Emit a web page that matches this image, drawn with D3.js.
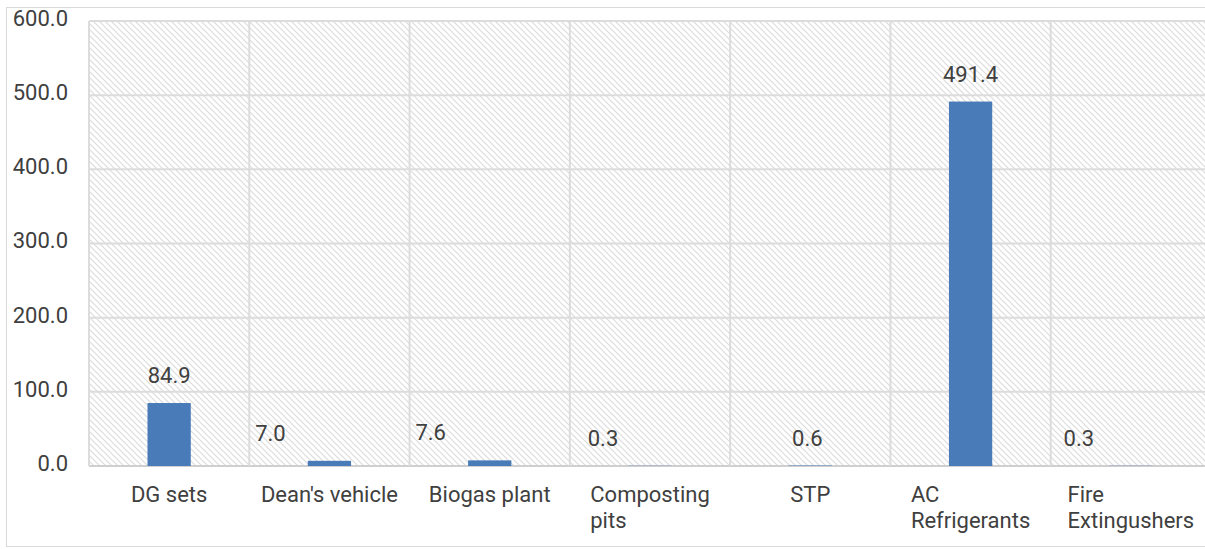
<!DOCTYPE html>
<html>
<head>
<meta charset="utf-8">
<script src="https://cdn.jsdelivr.net/npm/d3@7"></script>
<style>
  html, body { margin: 0; padding: 0; background: #fff; }
  svg { display: block; }
  text { font-family: Roboto, "Open Sans", sans-serif; fill: #404040; }
</style>
</head>
<body>
<svg id="chart" width="1205" height="549"></svg>
<script>
// Emission sources and their values
const categories = ["DG sets", "Dean's vehicle", "Biogas plant", "Composting pits", "STP", "AC Refrigerants", "Fire Extingushers"];
const categoryLines = [["DG sets"], ["Dean's vehicle"], ["Biogas plant"], ["Composting", "pits"], ["STP"], ["AC", "Refrigerants"], ["Fire", "Extingushers"]];
const values = [84.9, 7.0, 7.6, 0.3, 0.6, 491.4, 0.3];
const yTicks = [0, 100, 200, 300, 400, 500, 600];
// horizontal nudge of each value label, in px
const labelShift = [0, -59, -59, -47, -3, 0, -52];

const svg = d3.select("#chart");
const W = 1205, H = 549;
const plot = { left: 89, top: 21, right: 1211, bottom: 466 };
const FS = 22;

const x = d3.scaleBand().domain(categories).range([plot.left, plot.right]);
const y = d3.scaleLinear().domain([0, 600]).range([plot.bottom, plot.top]);
const barW = x.bandwidth() * 0.27;

// diagonal hatch fill for the plot area
const defs = svg.append("defs");
const pat = defs.append("pattern")
  .attr("id", "hatch").attr("patternUnits", "userSpaceOnUse")
  .attr("width", 6).attr("height", 6);
pat.append("rect").attr("width", 6).attr("height", 6).attr("fill", "#fff");
pat.append("path")
  .attr("d", "M-1,-1 L7,7 M-4,2 L1,7 M2,-4 L7,1")
  .attr("stroke", "#dcdcdc").attr("stroke-width", 1.2);

// outer chart frame
svg.append("rect")
  .attr("x", 6.5).attr("y", 7.5).attr("width", W + 10).attr("height", 539)
  .attr("fill", "#fff").attr("stroke", "#d9d9d9").attr("stroke-width", 1);

// plot background
svg.append("rect")
  .attr("x", plot.left).attr("y", plot.top)
  .attr("width", plot.right - plot.left).attr("height", plot.bottom - plot.top)
  .attr("fill", "url(#hatch)");

// horizontal gridlines
svg.append("g").selectAll("line").data(yTicks).join("line")
  .attr("x1", plot.left).attr("x2", plot.right)
  .attr("y1", d => y(d)).attr("y2", d => y(d))
  .attr("stroke", d => d === 0 ? "#cfcfcf" : "#dcdcdc").attr("stroke-width", 2);

// vertical gridlines at category boundaries
const bounds = categories.map(c => x(c)).concat([plot.right]);
svg.append("g").selectAll("line").data(bounds).join("line")
  .attr("x1", d => d).attr("x2", d => d)
  .attr("y1", plot.top).attr("y2", plot.bottom)
  .attr("stroke", "#dcdcdc").attr("stroke-width", 2);

// y axis labels
const yAxis = d3.axisLeft(y).tickValues(yTicks).tickFormat(d3.format(".1f")).tickSize(0).tickPadding(0);
const gy = svg.append("g").attr("transform", "translate(68,0)").call(yAxis);
gy.select(".domain").remove();
gy.selectAll("text")
  .attr("font-size", FS).attr("dy", "0.2em")
  .style("font-family", "Roboto, 'Open Sans', sans-serif").attr("fill", "#404040");

// bars
svg.append("g").selectAll("rect").data(values).join("rect")
  .attr("x", (d, i) => x(categories[i]) + x.bandwidth() / 2 - barW / 2)
  .attr("y", d => y(d))
  .attr("width", barW)
  .attr("height", d => y(0) - y(d))
  .attr("fill", "#4a7bb9");

// value labels
svg.append("g").selectAll("text").data(values).join("text")
  .attr("x", (d, i) => x(categories[i]) + x.bandwidth() / 2 + labelShift[i])
  .attr("y", d => y(d) - 20)
  .attr("text-anchor", "middle").attr("font-size", FS)
  .text(d => d3.format(".1f")(d));

// category labels: block centred on the band, lines left-aligned
const gx = svg.append("g");
categoryLines.forEach((lines, i) => {
  const t = gx.append("text").attr("font-size", FS).attr("y", 502);
  lines.forEach((ln, j) => {
    t.append("tspan").attr("x", 0).attr("dy", j === 0 ? 0 : 26).text(ln);
  });
  const w = t.node().getBBox().width;
  t.attr("transform", `translate(${x(categories[i]) + x.bandwidth() / 2 - w / 2},0)`);
});
</script>
</body>
</html>
